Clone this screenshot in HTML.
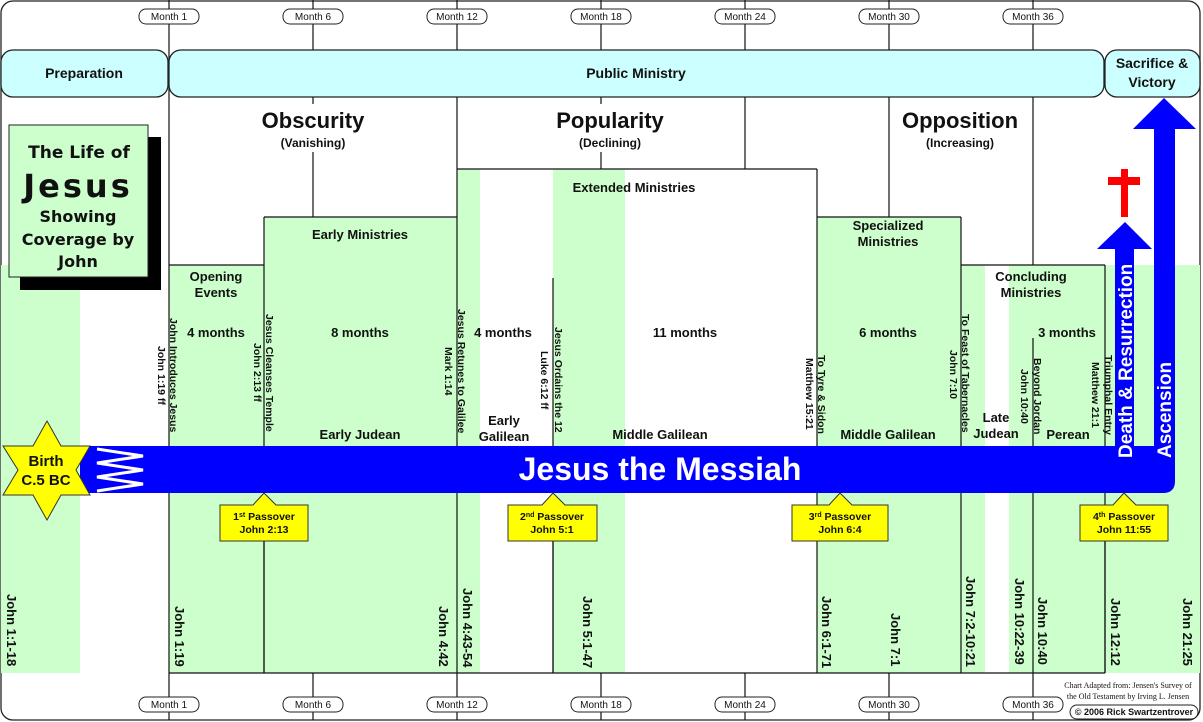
<!DOCTYPE html>
<html><head><meta charset="utf-8"><style>
html,body{margin:0;padding:0;background:#fff}
svg{display:block}
text{font-family:"Liberation Sans",Arial,sans-serif;font-weight:bold;fill:#111}
</style></head><body>
<svg width="1203" height="722" viewBox="0 0 1203 722" xmlns="http://www.w3.org/2000/svg">
<rect x="1" y="1" width="1199" height="719" rx="12" fill="#fff" stroke="#222" stroke-width="1.3"/>
<g fill="#ccffcc">
<rect x="1" y="265" width="79" height="408"/>
<rect x="169" y="265" width="95" height="408"/>
<rect x="264" y="217" width="193" height="456"/>
<rect x="457" y="169" width="23" height="504"/>
<rect x="553" y="169" width="72" height="504"/>
<rect x="817" y="217" width="144" height="456"/>
<rect x="961" y="265" width="24" height="408"/>
<rect x="1009" y="265" width="191" height="408"/>
</g>
<g stroke="#111" stroke-width="1.2" fill="none">
<line x1="169" y1="0" x2="169" y2="720"/>
<line x1="313" y1="0" x2="313" y2="50"/><line x1="313" y1="97" x2="313" y2="217"/><line x1="313" y1="673" x2="313" y2="720"/>
<line x1="457" y1="0" x2="457" y2="720"/>
<line x1="601" y1="0" x2="601" y2="50"/><line x1="601" y1="97" x2="601" y2="169"/><line x1="601" y1="673" x2="601" y2="720"/>
<line x1="745" y1="0" x2="745" y2="50"/><line x1="745" y1="97" x2="745" y2="169"/><line x1="745" y1="673" x2="745" y2="720"/>
<line x1="889" y1="0" x2="889" y2="50"/><line x1="889" y1="97" x2="889" y2="217"/><line x1="889" y1="673" x2="889" y2="720"/>
<line x1="1033" y1="0" x2="1033" y2="50"/><line x1="1033" y1="97" x2="1033" y2="265"/><line x1="1033" y1="338" x2="1033" y2="720"/>
<line x1="169" y1="265" x2="264" y2="265"/>
<line x1="264" y1="217" x2="457" y2="217"/>
<line x1="264" y1="217" x2="264" y2="673"/>
<line x1="457" y1="169" x2="817" y2="169"/>
<line x1="817" y1="169" x2="817" y2="673"/>
<line x1="553" y1="278" x2="553" y2="673"/>
<line x1="817" y1="217" x2="961" y2="217"/>
<line x1="961" y1="217" x2="961" y2="673"/>
<line x1="961" y1="265" x2="1105" y2="265"/>
<line x1="1105" y1="265" x2="1105" y2="673"/>
<line x1="169" y1="673" x2="1105" y2="673"/>
</g>
<g fill="#ccffff" stroke="#222" stroke-width="1.3">
<rect x="1" y="50" width="167" height="47" rx="12"/>
<rect x="169" y="50" width="935" height="47" rx="12"/>
<rect x="1105" y="50" width="95" height="47" rx="12"/>
</g>
<text x="84" y="78" font-size="14" text-anchor="middle">Preparation</text>
<text x="636" y="78" font-size="14" text-anchor="middle">Public Ministry</text>
<text x="1152" y="68" font-size="14" text-anchor="middle">Sacrifice &amp;</text>
<text x="1152" y="87" font-size="14" text-anchor="middle">Victory</text>
<g fill="#fff" stroke="#222" stroke-width="1">
<rect x="139" y="9" width="60" height="15" rx="7"/><rect x="283" y="9" width="60" height="15" rx="7"/><rect x="427" y="9" width="60" height="15" rx="7"/><rect x="571" y="9" width="60" height="15" rx="7"/><rect x="715" y="9" width="60" height="15" rx="7"/><rect x="859" y="9" width="60" height="15" rx="7"/><rect x="1003" y="9" width="60" height="15" rx="7"/>
<rect x="139" y="697" width="60" height="15" rx="7"/><rect x="283" y="697" width="60" height="15" rx="7"/><rect x="427" y="697" width="60" height="15" rx="7"/><rect x="571" y="697" width="60" height="15" rx="7"/><rect x="715" y="697" width="60" height="15" rx="7"/><rect x="859" y="697" width="60" height="15" rx="7"/><rect x="1003" y="697" width="60" height="15" rx="7"/>
<rect x="1070" y="705" width="128" height="14" rx="7"/>
</g>
<g text-anchor="middle" font-size="10">
<text x="169" y="20" style="font-weight:normal">Month 1</text><text x="313" y="20" style="font-weight:normal">Month 6</text><text x="457" y="20" style="font-weight:normal">Month 12</text><text x="601" y="20" style="font-weight:normal">Month 18</text><text x="745" y="20" style="font-weight:normal">Month 24</text><text x="889" y="20" style="font-weight:normal">Month 30</text><text x="1033" y="20" style="font-weight:normal">Month 36</text>
<text x="169" y="708" style="font-weight:normal">Month 1</text><text x="313" y="708" style="font-weight:normal">Month 6</text><text x="457" y="708" style="font-weight:normal">Month 12</text><text x="601" y="708" style="font-weight:normal">Month 18</text><text x="745" y="708" style="font-weight:normal">Month 24</text><text x="889" y="708" style="font-weight:normal">Month 30</text><text x="1033" y="708" style="font-weight:normal">Month 36</text>
</g>
<text x="1134" y="715" font-size="9" text-anchor="middle">© 2006 Rick Swartzentrover</text>
<text x="1128" y="688" font-size="8" text-anchor="middle" style="font-family:'Liberation Serif',serif;font-weight:normal">Chart Adapted from: Jensen's Survey of</text>
<text x="1128" y="699" font-size="8" text-anchor="middle" style="font-family:'Liberation Serif',serif;font-weight:normal">the Old Testament by Irving L. Jensen</text>
<g text-anchor="middle">
<rect x="255" y="104" width="116" height="48" fill="#fff"/>
<rect x="555" y="104" width="110" height="48" fill="#fff"/>
<rect x="895" y="104" width="130" height="48" fill="#fff"/>
<text x="313" y="128" font-size="22">Obscurity</text><text x="313" y="147" font-size="12">(Vanishing)</text>
<text x="610" y="128" font-size="22">Popularity</text><text x="610" y="147" font-size="12">(Declining)</text>
<text x="960" y="128" font-size="22">Opposition</text><text x="960" y="147" font-size="12">(Increasing)</text>
</g>
<rect x="20" y="137" width="141" height="153" fill="#000"/>
<rect x="9" y="125" width="139" height="152" fill="#ccffcc" stroke="#222" stroke-width="1"/>
<g text-anchor="middle">
<text x="79" y="158" font-size="17" style="font-family:'DejaVu Sans',sans-serif">The Life of</text>
<text x="78" y="197" font-size="32" letter-spacing="3" style="font-family:'DejaVu Sans',sans-serif">Jesus</text>
<text x="78" y="222" font-size="16" style="font-family:'DejaVu Sans',sans-serif">Showing</text>
<text x="78" y="245" font-size="16" style="font-family:'DejaVu Sans',sans-serif">Coverage by</text>
<text x="78" y="267" font-size="16" style="font-family:'DejaVu Sans',sans-serif">John</text>
</g>
<g font-size="13" text-anchor="middle">
<text x="216" y="281">Opening</text><text x="216" y="297">Events</text>
<text x="216" y="337">4 months</text>
<text x="360" y="239">Early Ministries</text><text x="360" y="337">8 months</text><text x="360" y="439">Early Judean</text>
<text x="634" y="192">Extended Ministries</text>
<text x="503" y="337">4 months</text><text x="504" y="425">Early</text><text x="504" y="441">Galilean</text>
<text x="685" y="337">11 months</text><text x="660" y="439">Middle Galilean</text>
<text x="888" y="230">Specialized</text><text x="888" y="246">Ministries</text>
<text x="888" y="337">6 months</text><text x="888" y="439">Middle Galilean</text>
<text x="1031" y="281">Concluding</text><text x="1031" y="297">Ministries</text>
<text x="1067" y="337">3 months</text>
<text x="996" y="422">Late</text><text x="996" y="438">Judean</text>
<text x="1068" y="439">Perean</text>
</g>
<g font-size="10.5">
<text transform="translate(170,318) rotate(90)">John Introduces Jesus</text>
<text transform="translate(158,346) rotate(90)">John 1:19 ff</text>
<text transform="translate(254,343) rotate(90)">John 2:13 ff</text>
<text transform="translate(266,314) rotate(90)">Jesus Cleanses Temple</text>
<text transform="translate(445,347) rotate(90)">Mark 1:14</text>
<text transform="translate(458,309) rotate(90)">Jesus Retunes to Galilee</text>
<text transform="translate(541,351) rotate(90)">Luke 6:12 ff</text>
<text transform="translate(555,327) rotate(90)">Jesus Ordains the 12</text>
<text transform="translate(806,358) rotate(90)">Matthew 15:21</text>
<text transform="translate(818,355) rotate(90)">To Tyre &amp; Sidon</text>
<text transform="translate(950,350) rotate(90)">John 7:10</text>
<text transform="translate(962,314) rotate(90)">To Feast of Tabernacles</text>
<text transform="translate(1021,369) rotate(90)">John 10:40</text>
<text transform="translate(1034,358) rotate(90)">Beyond Jordan</text>
<text transform="translate(1092,362) rotate(90)">Matthew 21:1</text>
<text transform="translate(1105,355) rotate(90)">Triumphal Entry</text>
</g>
<g font-size="13">
<text transform="translate(7,594) rotate(90)">John 1:1-18</text>
<text transform="translate(175,606) rotate(90)">John 1:19</text>
<text transform="translate(439,606) rotate(90)">John 4:42</text>
<text transform="translate(463,588) rotate(90)">John 4:43-54</text>
<text transform="translate(583,596) rotate(90)">John 5:1-47</text>
<text transform="translate(822,596) rotate(90)">John 6:1-71</text>
<text transform="translate(891,613) rotate(90)">John 7:1</text>
<text transform="translate(966,576) rotate(90)">John 7:2-10:21</text>
<text transform="translate(1015,578) rotate(90)">John 10:22-39</text>
<text transform="translate(1038,597) rotate(90)">John 10:40</text>
<text transform="translate(1111,598) rotate(90)">John 12:12</text>
<text transform="translate(1183,598) rotate(90)">John 21:25</text>
</g>
<g fill="#0000ff">
<path d="M80,446 H1154 V129 H1133 L1164,98 L1196,129 H1175 V481 Q1175,493 1163,493 H80 Z"/>
<path d="M1115,446 V249 H1097 L1125,222 L1152,249 H1134 V446 Z"/>
</g>
<polyline points="97,449 143,456 97,463 143,470 97,477 143,484 97,491" fill="none" stroke="#fff" stroke-width="3"/>
<text x="660" y="480" font-size="32" text-anchor="middle" style="fill:#fff">Jesus the Messiah</text>
<text transform="translate(1132,458) rotate(-90)" font-size="19" style="fill:#fff">Death &amp; Resurrection</text>
<text transform="translate(1171,458) rotate(-90)" font-size="19" style="fill:#fff">Ascension</text>
<rect x="1121" y="169" width="7" height="48" fill="#ff0000"/>
<rect x="1108" y="177" width="32" height="8" fill="#ff0000"/>
<polygon points="47,421 61,446 90,446 76,470 90,495 61,495 47,520 33,495 3,495 18,470 3,446 33,446" fill="#ffff00" stroke="#333" stroke-width="1"/>
<text x="46" y="466" font-size="15" text-anchor="middle">Birth</text>
<text x="46" y="485" font-size="15" text-anchor="middle">C.5 BC</text>
<g stroke="#111" stroke-width="1.2">
<line x1="264" y1="541" x2="264" y2="673"/>
<line x1="553" y1="541" x2="553" y2="673"/>
<line x1="1105" y1="541" x2="1105" y2="673"/>
</g>
<g fill="#ffff00" stroke="#333" stroke-width="1">
<path d="M220,505 H253 L264,493 L276,505 H308 V541 H220 Z"/>
<path d="M508,505 H542 L553,493 L565,505 H597 V541 H508 Z"/>
<path d="M792,505 H829 L840,493 L852,505 H888 V541 H792 Z"/>
<path d="M1080,505 H1113 L1124,493 L1136,505 H1168 V541 H1080 Z"/>
</g>
<g font-size="10.5" text-anchor="middle">
<text x="264" y="520">1<tspan font-size="7" dy="-3">st</tspan><tspan dy="3"> Passover</tspan></text><text x="264" y="533">John 2:13</text>
<text x="552" y="520">2<tspan font-size="7" dy="-3">nd</tspan><tspan dy="3"> Passover</tspan></text><text x="552" y="533">John 5:1</text>
<text x="840" y="520">3<tspan font-size="7" dy="-3">rd</tspan><tspan dy="3"> Passover</tspan></text><text x="840" y="533">John 6:4</text>
<text x="1124" y="520">4<tspan font-size="7" dy="-3">th</tspan><tspan dy="3"> Passover</tspan></text><text x="1124" y="533">John 11:55</text>
</g>
</svg>
</body></html>
